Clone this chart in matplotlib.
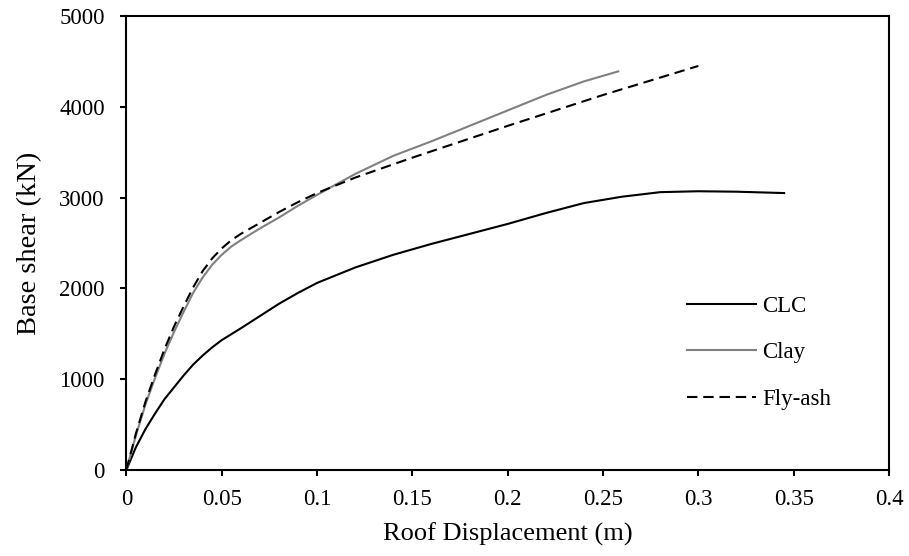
import matplotlib
matplotlib.use('Agg')
import matplotlib.pyplot as plt

# pushover curves: roof displacement (m) vs base shear (kN)
clc_x = [0, 0.005, 0.01, 0.015, 0.02, 0.025, 0.03, 0.035, 0.04, 0.045, 0.05, 0.06,
         0.07, 0.08, 0.09, 0.1, 0.12, 0.14, 0.16, 0.18, 0.2, 0.22, 0.24, 0.26,
         0.28, 0.30, 0.32, 0.345]
clc_y = [0, 250, 450, 620, 780, 910, 1040, 1160, 1260, 1350, 1430, 1560,
         1695, 1830, 1950, 2060, 2230, 2370, 2490, 2600, 2710, 2830, 2940, 3010,
         3060, 3070, 3065, 3050]

clay_x = [0, 0.005, 0.01, 0.015, 0.02, 0.025, 0.03, 0.035, 0.04, 0.045, 0.05,
          0.055, 0.06, 0.07, 0.08, 0.09, 0.1, 0.12, 0.14, 0.16, 0.18, 0.2, 0.22,
          0.24, 0.258]
clay_y = [0, 380, 720, 1010, 1280, 1520, 1740, 1950, 2120, 2260, 2370,
          2460, 2530, 2660, 2780, 2910, 3030, 3260, 3460, 3620, 3790, 3960, 4130,
          4280, 4390]

flyash_x = [0, 0.005, 0.01, 0.015, 0.02, 0.025, 0.03, 0.035, 0.04, 0.045, 0.05,
            0.055, 0.06, 0.07, 0.08, 0.09, 0.1, 0.12, 0.15, 0.2, 0.25, 0.3]
flyash_y = [0, 400, 750, 1050, 1330, 1580, 1800, 2010, 2190, 2330, 2440,
            2530, 2600, 2720, 2840, 2950, 3050, 3220, 3440, 3790, 4130, 4450]

x_ticks = [0, 0.05, 0.1, 0.15, 0.2, 0.25, 0.3, 0.35, 0.4]
x_tick_labels = ['0', '0.05', '0.1', '0.15', '0.2', '0.25', '0.3', '0.35', '0.4']
y_ticks = [0, 1000, 2000, 3000, 4000, 5000]

plt.rcParams['font.family'] = ['Liberation Serif', 'DejaVu Serif']
plt.rcParams['font.size'] = 16.5

fig = plt.figure(figsize=(9.09, 5.56), dpi=100)
ax = fig.add_axes([0.139, 0.1547, 0.839, 0.8165])

ax.plot(clc_x, clc_y, color='black', lw=1.5, label='CLC')
ax.plot(clay_x, clay_y, color='#808080', lw=1.5, label='Clay')
ax.plot(flyash_x, flyash_y, color='black', lw=1.5, dashes=(5, 2.8), label='Fly-ash')

ax.set_xlim(0, 0.4)
ax.set_ylim(0, 5000)
ax.set_xticks(x_ticks)
ax.set_xticklabels(x_tick_labels)
ax.set_yticks(y_ticks)
ax.tick_params(direction='out', length=4.5, width=1.5)
ax.tick_params(axis='x', pad=9.5)
ax.tick_params(axis='y', pad=11)
for s in ax.spines.values():
    s.set_linewidth(1.5)

ax.set_xlabel('Roof Displacement (m)', fontsize=19, labelpad=9)
ax.set_ylabel('Base shear (kN)', fontsize=20.5, labelpad=12)

ax.legend(loc='upper left', bbox_to_anchor=(0.735, 0.383), frameon=False,
          borderpad=0, borderaxespad=0, handlelength=3.0, handletextpad=0.3,
          labelspacing=1.1)

fig.savefig('out.png', dpi=100)
